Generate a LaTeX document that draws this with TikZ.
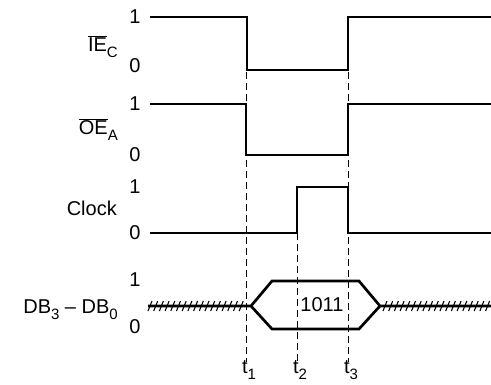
\documentclass[tikz,border=0pt]{standalone}
\usepackage{fontspec}
\setmainfont{Liberation Sans}
\newcommand\lowsub[1]{\raisebox{-0.3em}{\fontsize{15}{15}\selectfont #1}}
\begin{document}
\begin{tikzpicture}[x=1pt,y=-1pt,
  sig/.style={line width=2.7pt},
  guide/.style={line width=0.9pt, dash pattern=on 7pt off 4pt},
  hatch/.style={line width=1.1pt},
  lbl/.style={font=\fontsize{20}{22}\selectfont, inner sep=0pt}]
\useasboundingbox (0,0) rectangle (491,384);
% guides
\draw[guide] (246,72) -- (246,362);
\draw[guide] (297,189) -- (297,362);
\draw[guide] (348,72) -- (348,362);
% signals
\draw[sig] (150,17) -- (247,17) -- (247,70) -- (348,70) -- (348,17) -- (491,17);
\draw[sig] (150,104) -- (246,104) -- (246,155) -- (348,155) -- (348,104) -- (491,104);
\draw[sig] (150,233) -- (297,233) -- (297,187) -- (348,187) -- (348,233) -- (491,233);
\draw[sig] (148,306) -- (251,306) -- (272,281) -- (359,281) -- (380,306) -- (491,306);
\draw[sig] (251,306) -- (272,329) -- (359,329) -- (380,306);
\foreach \x in {150,155.7,...,246} \draw[hatch] (\x-2,311) -- (\x+2,301);
\foreach \x in {385,390.7,...,490} \draw[hatch] (\x-2,311) -- (\x+2,301);
% labels
\node[lbl, anchor=east] (iec) at (118,47) {$\overline{\mbox{IE}}$\lowsub{C}};
\node[lbl, anchor=east] (oea) at (118,130) {$\overline{\mbox{OE}}$\lowsub{A}};
\node[lbl, anchor=east] (clk) at (117,208) {Clock};
\node[lbl, anchor=east] (db) at (118,310) {DB\lowsub{3} -- DB\lowsub{0}};
\node[lbl] (v1a) at (135,17) {1};
\node[lbl] (v0a) at (135,66) {0};
\node[lbl] (v1b) at (135,104) {1};
\node[lbl] (v0b) at (135,155) {0};
\node[lbl] (v1c) at (135,187) {1};
\node[lbl] (v0c) at (135,233) {0};
\node[lbl] (v1d) at (135,280) {1};
\node[lbl] (v0d) at (135,327) {0};
\node[lbl] (data) at (322,305) {1011};
\node[lbl] (t1) at (249,370) {t\lowsub{1}};
\node[lbl] (t2) at (300,370) {t\lowsub{2}};
\node[lbl] (t3) at (351,370) {t\lowsub{3}};
\end{tikzpicture}
\end{document}
